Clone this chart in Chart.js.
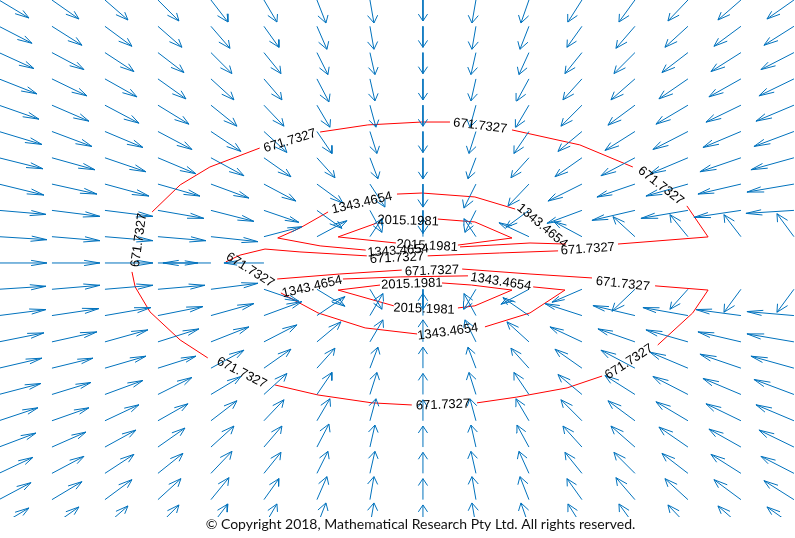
<!DOCTYPE html>
<html>
<head>
<meta charset="utf-8">
<script src="https://cdn.jsdelivr.net/npm/chart.js@4.4.1/dist/chart.umd.min.js"></script>
<style>
  html, body { margin: 0; padding: 0; background: #fff; }
</style>
</head>
<body>
<canvas id="quiverChart" width="795" height="538"></canvas>
<script>
// Grid of the vector field (column and row positions)
const xGrid = [-8, -7, -6, -5, -4, -3, -2, -1, 0, 1, 2, 3, 4, 5, 6, 7];
const yGrid = [10, 9, 8, 7, 6, 5, 4, 3, 2, 1, 0, -1, -2, -3, -4, -5, -6, -7, -8, -9, -10];

// Vector components, one row per yGrid entry (left to right)
const U = [
  [30, 27, 23, 21, 17, 13, 9, 4, 0, -4, -8, -14, -16, -20, -23, -27],
  [33, 30, 27, 24, 19, 15, 10, 4, 0, -4, -9, -15, -19, -23, -27, -30],
  [35, 32, 29, 26, 21, 17, 11, 5, 0, -5, -10, -17, -21, -26, -30, -33],
  [38, 35, 32, 28, 23, 18, 12, 5, 0, -5, -12, -19, -24, -29, -32, -35],
  [40, 37, 34, 31, 26, 20, 13, 6, 0, -6, -13, -21, -27, -32, -35, -38],
  [43, 40, 38, 34, 30, 23, 15, 7, 0, -7, -15, -24, -30, -35, -38, -40],
  [44, 43, 41, 38, 33, 27, 18, 8, 0, -8, -18, -27, -34, -38, -41, -43],
  [45, 45, 44, 42, 38, 32, 26, 15, 0, -12, -21, -34, -38, -42, -43, -47],
  [47, 48, 48, 46, 43, 35, 25, 12, 0, -11, -23, -35, -43, -47, -47, -48],
  [48, 48, 48, 48, 47, 38, 30, 12, 0, -12, -30, -28, -22, -18, -17, -17],
  [48, 48, 48, 40, -48, -40, 0, 0, 0, 0, 0, 0, 0, 0, 0, 0],
  [47, 48, 48, 47, 47, 35, 28, 12, 0, -12, -28, -30, -23, -18, -17, -17],
  [47, 47, 46, 45, 43, 38, 28, 13, 0, -12, -26, -37, -42, -45, -45, -47],
  [45, 45, 43, 41, 38, 33, 24, 13, 0, -11, -22, -32, -37, -42, -43, -47],
  [43, 41, 41, 38, 33, 27, 18, 8, 0, -8, -18, -27, -34, -38, -41, -43],
  [42, 39, 38, 34, 30, 23, 15, 7, 0, -7, -15, -24, -30, -35, -38, -40],
  [39, 37, 34, 30, 26, 20, 13, 6, 0, -6, -13, -21, -27, -32, -35, -38],
  [37, 34, 31, 27, 23, 18, 12, 5, 0, -5, -12, -19, -24, -29, -32, -35],
  [34, 32, 29, 25, 21, 17, 11, 5, 0, -5, -10, -17, -21, -26, -30, -33],
  [32, 30, 27, 23, 18, 15, 10, 4, 0, -4, -9, -15, -19, -23, -27, -30],
  [30, 27, 23, 21, 17, 13, 9, 4, 0, -4, -8, -14, -16, -20, -23, -27]
];
const V = [
  [-18, -19, -20, -21, -22, -22, -23, -23, -21, -23, -23, -22, -22, -21, -20, -19],
  [-17, -19, -20, -21, -22, -21, -23, -23, -21, -23, -23, -21, -22, -21, -20, -19],
  [-16, -17, -19, -20, -21, -21, -22, -22, -21, -22, -22, -21, -21, -20, -19, -17],
  [-15, -17, -18, -20, -21, -21, -23, -22, -21, -22, -22, -21, -21, -20, -18, -17],
  [-14, -16, -18, -19, -21, -21, -22, -22, -21, -22, -22, -21, -20, -19, -17, -16],
  [-13, -15, -16, -18, -20, -21, -22, -22, -21, -22, -22, -20, -19, -18, -16, -15],
  [-11, -12, -14, -16, -18, -19, -20, -21, -21, -21, -20, -19, -18, -16, -14, -12],
  [-11, -10, -12, -12, -14, -17, -19, -23, -23, -24, -22, -17, -13, -12, -10, -8],
  [-4, -6, -6, -8, -11, -12, -18, -22, -23, -22, -17, -13, -10, -8, -7, -3],
  [-3, -4, -4, -4, -5, 10, 16, 18, 18, 18, 14, 15, 20, 22, 22, 23],
  [0, 0, 0, 0, 0, 0, 0, 0, 0, 0, 0, 0, 0, 0, 0, 0],
  [3, 4, 4, 4, 6, -12, -17, -20, -20, -20, -15, -13, -22, -20, -23, -23],
  [6, 7, 8, 9, 12, 14, 19, 22, 22, 22, 18, 12, 10, 8, 6, 4],
  [9, 10, 12, 13, 15, 17, 20, 22, 22, 22, 20, 15, 13, 12, 10, 8],
  [10, 10, 12, 12, 18, 19, 20, 21, 21, 21, 20, 19, 18, 16, 14, 12],
  [11, 12, 14, 17, 18, 21, 22, 22, 21, 22, 22, 20, 19, 18, 16, 15],
  [13, 13, 16, 17, 20, 21, 22, 22, 21, 22, 22, 21, 20, 19, 17, 16],
  [14, 15, 17, 19, 21, 21, 23, 22, 21, 22, 22, 21, 21, 20, 18, 17],
  [16, 17, 19, 20, 22, 21, 22, 22, 21, 22, 22, 21, 21, 20, 19, 17],
  [17, 18, 20, 21, 22, 21, 23, 23, 21, 23, 23, 21, 22, 21, 20, 19],
  [18, 19, 20, 21, 22, 22, 23, 23, 21, 23, 23, 22, 22, 21, 20, 19]
];
// quiver autoscale for each direction, and MATLAB style head shape
const scaleU = 1 / 53, scaleV = 1 / 26.3;
const headAlpha = 0.33, headBeta = 0.33;

// Contour levels and their traced lines (pieces between the inline labels)
const levels = ['671.7327', '1343.4654', '2015.1981'];
const contour671 = [
  [[-5.11, 1.94], [-4.58, 2.97], [-4.02, 3.65], [-3.08, 4.37]],
  [[-1.94, 4.98], [-1.04, 5.25], [-0.02, 5.36], [0.51, 5.36]],
  [[1.68, 5.06], [2.96, 4.49], [3.96, 3.65]],
  [[4.98, 2.17], [5.38, 0.99], [3.68, 0.72]],
  [[2.55, 0.46], [1.45, 0.38], [0.09, 0.27]],
  [[-1.06, 0.27], [-2.32, 0.42], [-2.98, 0.53], [-3.45, 0.30], [-3.72, 0.04]],
  [[-2.75, -0.61], [-1.57, -0.42], [-0.40, -0.27]],
  [[0.74, -0.23], [2.02, -0.42], [3.19, -0.57]],
  [[4.38, -0.87], [5.38, -1.03], [5.09, -1.90], [4.43, -3.12]],
  [[3.38, -4.30], [2.72, -4.75], [1.77, -5.10], [1.02, -5.32]],
  [[-0.21, -5.40], [-0.96, -5.32], [-1.98, -5.02], [-2.79, -4.64]],
  [[-4.06, -3.61], [-4.58, -2.93], [-5.15, -1.86], [-5.43, -0.91], [-5.49, -0.34]]
];
const contour1343 = [
  [[-2.74, 0.95], [-2.32, 1.33], [-1.79, 1.94]],
  [[-0.49, 2.62], [-0.02, 2.66], [0.98, 2.51], [1.74, 2.05]],
  [[2.70, 0.72], [2.02, 0.76], [0.70, 0.61]],
  [[-1.08, 0.49], [-1.94, 0.65], [-2.74, 0.95]],
  [[-1.51, -0.61], [-0.43, -0.53], [0.85, -0.49]],
  [[2.08, -0.91], [2.68, -1.03], [2.02, -1.90], [1.17, -2.43]],
  [[-0.11, -2.70], [-1.09, -2.47], [-1.98, -1.90], [-2.68, -1.14]]
];
const contour2015 = [
  [[0.28, 1.67], [0.98, 1.56], [1.68, 0.95], [0.66, 0.68]],
  [[-0.51, 0.76], [-1.60, 0.99], [-0.87, 1.52]],
  [[0.36, -0.76], [0.92, -0.84], [1.68, -1.03], [0.98, -1.63], [0.66, -1.71]],
  [[-0.55, -1.63], [-1.60, -1.03], [-0.81, -0.84]]
];
// inline labels: level index, position, rotation (degrees)
const labelLevel = [0, 0, 0, 0, 0, 0, 0, 0, 0, 0, 0, 0, 1, 1, 1, 1, 1, 1, 2, 2, 2, 2];
const labelX = [-2.51, 1.08, 4.49, 3.11, -0.49, -3.26, 0.17, 3.77, 3.89, 0.38, -3.42, -5.36,
                -1.15, 2.25, -0.47, -2.09, 1.47, 0.47, 0.08, -0.28, 0.02, -0.21];
const labelY = [4.64, 5.21, 2.93, 0.53, 0.19, -0.27, -0.30, -0.80, -3.76, -5.40, -4.18, 0.87,
                2.28, 1.41, 0.46, -0.91, -0.72, -2.62, 0.65, 1.60, -1.75, -0.80];
const labelAngle = [-17, 7, 38, -4, -3, 32, -2, 6, -33, -2, 27, -82,
                    -13, 40, -4, -13, 9, -8, 3, 2, 2, -2];

const copyrightText = '\u00A9 Copyright 2018, Mathematical Research Pty Ltd. All rights reserved.';

// Build the arrows as one broken line
const arrowData = [];
yGrid.forEach((y, r) => {
  xGrid.forEach((x, c) => {
    const u = U[r][c] * scaleU;
    const v = V[r][c] * scaleV;
    if (u === 0 && v === 0) return;
    const tx = x + u, ty = y + v;
    arrowData.push({ x: x, y: y }, { x: tx, y: ty }, { x: tx, y: null });
    arrowData.push({ x: tx - headAlpha * (u + headBeta * v), y: ty - headAlpha * (v - headBeta * u) });
    arrowData.push({ x: tx, y: ty });
    arrowData.push({ x: tx - headAlpha * (u - headBeta * v), y: ty - headAlpha * (v + headBeta * u) });
    arrowData.push({ x: tx, y: null });
  });
});

const toLine = (pieces) => {
  const pts = [];
  pieces.forEach(p => {
    p.forEach(([x, y]) => pts.push({ x, y }));
    pts.push({ x: p[p.length - 1][0], y: null });
  });
  return pts;
};

const contourData = toLine(contour671.concat(contour1343, contour2015));

// Contour labels and copyright line
const labelPlugin = {
  id: 'contourLabels',
  afterDatasetsDraw(chart) {
    const ctx = chart.ctx;
    const xs = chart.scales.x, ys = chart.scales.y;
    ctx.save();
    ctx.fillStyle = '#000';
    ctx.font = '13px "Liberation Sans", Arial, sans-serif';
    ctx.textAlign = 'center';
    ctx.textBaseline = 'middle';
    labelLevel.forEach((lv, i) => {
      ctx.save();
      ctx.translate(xs.getPixelForValue(labelX[i]), ys.getPixelForValue(labelY[i]));
      ctx.rotate(labelAngle[i] * Math.PI / 180);
      ctx.fillText(levels[lv], 0, 0);
      ctx.restore();
    });
    ctx.restore();
  },
  afterDraw(chart) {
    const ctx = chart.ctx;
    const area = chart.chartArea;
    ctx.save();
    ctx.fillStyle = '#111';
    ctx.font = '14px Lato, "Open Sans", sans-serif';
    ctx.textAlign = 'center';
    ctx.textBaseline = 'alphabetic';
    ctx.fillText(copyrightText, (area.left + area.right) / 2 + 23, area.bottom + 12);
    ctx.restore();
  }
};

new Chart(document.getElementById('quiverChart'), {
  type: 'scatter',
  data: {
    datasets: [
      {
        label: 'field',
        data: arrowData,
        showLine: true,
        spanGaps: false,
        borderColor: '#0072BD',
        borderWidth: 1,
        pointRadius: 0
      },
      {
        label: 'contours',
        data: contourData,
        showLine: true,
        spanGaps: false,
        borderColor: '#ff0000',
        borderWidth: 1,
        pointRadius: 0
      }
    ]
  },
  options: {
    responsive: false,
    devicePixelRatio: 1,
    animation: false,
    layout: { padding: { left: 0, right: 0, top: 0, bottom: 21 } },
    plugins: {
      legend: { display: false },
      tooltip: { enabled: false }
    },
    scales: {
      x: { type: 'linear', display: false, min: -7.98, max: 7.02 },
      y: { type: 'linear', display: false, min: -9.66, max: 10 }
    }
  },
  plugins: [labelPlugin]
});
</script>
</body>
</html>
